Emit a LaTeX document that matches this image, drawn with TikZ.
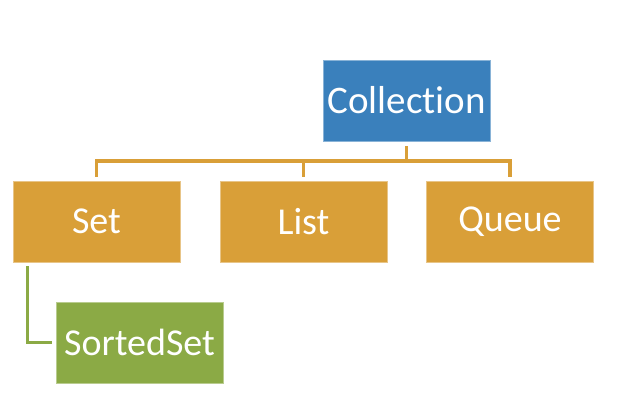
\documentclass[tikz,border=0pt]{standalone}
\usepackage{fontspec}
\setmainfont{Carlito}[Ligatures={NoCommon}]
\definecolor{cblue}{HTML}{3A80BC}
\definecolor{corange}{HTML}{D99F38}
\definecolor{cgreen}{HTML}{8BAA45}
\begin{document}
\begin{tikzpicture}[x=1pt,y=-1pt,
  boxbase/.style={rectangle, minimum width=167pt, minimum height=81pt, inner sep=0pt, text=white, line width=0.8pt},
  bluebox/.style={boxbase, fill=cblue, draw=cblue!60!white, font=\fontsize{39}{44}\selectfont},
  orangebox/.style={boxbase, fill=corange, draw=corange!60!white, font=\fontsize{38}{42}\selectfont},
  greenbox/.style={boxbase, fill=cgreen, draw=cgreen!60!white, font=\fontsize{38}{42}\selectfont},
  oconn/.style={draw=corange, line width=3.5pt, shorten <=5pt, shorten >=4pt},
  gconn/.style={draw=cgreen, line width=3.5pt, shorten <=4pt, shorten >=4pt}]
\useasboundingbox (0,0) rectangle (621,405);
\node[bluebox] (coll) at (406.5,100.5) {Collection};
\node[orangebox] (set) at (96.5,221.5) {Set};
\node[orangebox] (list) at (303.5,221.5) {List};
\node[orangebox] (queue) at (510,221.5) {Queue};
\node[greenbox] (sorted) at (139.5,342.5) {SortedSet};
\draw[oconn] (coll.south) -- ++(0,19.5) -| (set.north);
\draw[oconn] (coll.south) -- ++(0,19.5) -| (list.north);
\draw[oconn] (coll.south) -- ++(0,19.5) -| (queue.north);
\draw[gconn] ([xshift=15pt]set.south west) |- (sorted.west);
\end{tikzpicture}
\end{document}
